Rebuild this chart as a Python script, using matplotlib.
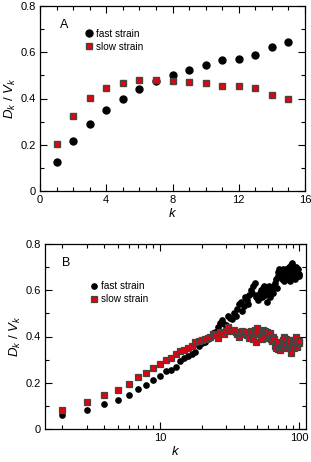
import matplotlib
matplotlib.use("Agg")
import matplotlib.pyplot as plt
from matplotlib.ticker import MultipleLocator, LogLocator, NullFormatter, FixedLocator, FixedFormatter
import numpy as np

plt.rcParams['font.family'] = ['Liberation Sans', 'DejaVu Sans']
plt.rcParams['mathtext.fontset'] = 'custom'
plt.rcParams['mathtext.it'] = 'Liberation Sans:italic'
plt.rcParams['mathtext.rm'] = 'Liberation Sans'

# Panel A data
kA = list(range(1, 16))
fastA = [0.125, 0.215, 0.29, 0.35, 0.40, 0.44, 0.475, 0.50, 0.525, 0.543, 0.565, 0.572, 0.59, 0.622, 0.643]
slowA = [0.205, 0.325, 0.402, 0.445, 0.467, 0.478, 0.478, 0.477, 0.471, 0.466, 0.455, 0.455, 0.445, 0.413, 0.400]

# Panel B data
kB = list(range(2, 101))
fastB = [0.059, 0.083, 0.106, 0.124, 0.148, 0.174, 0.191, 0.211, 0.230, 0.249, 0.256, 0.268, 0.292,
         0.305, 0.315, 0.325, 0.335, 0.36, 0.37,
         0.375, 0.39, 0.40, 0.415, 0.42, 0.44, 0.46, 0.47, 0.455, 0.45,
         0.49, 0.48, 0.475, 0.50, 0.49, 0.52, 0.54, 0.55, 0.51, 0.53,
         0.57, 0.56, 0.54, 0.58, 0.60, 0.59, 0.62, 0.63, 0.57, 0.58,
         0.56, 0.59, 0.60, 0.57, 0.61, 0.62, 0.58, 0.60, 0.55, 0.59,
         0.62, 0.57, 0.61, 0.60, 0.59, 0.62, 0.63, 0.65, 0.61, 0.66,
         0.68, 0.69, 0.67, 0.68, 0.65, 0.69, 0.68, 0.64, 0.66, 0.67,
         0.69, 0.65, 0.68, 0.70, 0.66, 0.64, 0.69, 0.71, 0.72, 0.68,
         0.66, 0.70, 0.69, 0.65, 0.70, 0.68, 0.66, 0.69, 0.67, 0.66]
slowB = [0.081, 0.117, 0.145, 0.170, 0.194, 0.227, 0.242, 0.263, 0.282, 0.299, 0.306, 0.324, 0.338,
         0.34, 0.35, 0.36, 0.378, 0.38, 0.385,
         0.39, 0.395, 0.40, 0.41, 0.405, 0.395, 0.42, 0.415, 0.41, 0.425,
         0.44, 0.43, 0.425, 0.43, 0.42, 0.41, 0.40, 0.415, 0.425, 0.41,
         0.42, 0.405, 0.42, 0.395, 0.425, 0.40, 0.39, 0.43, 0.375, 0.435,
         0.42, 0.41, 0.40, 0.39, 0.43, 0.41, 0.425, 0.40, 0.42, 0.405,
         0.395, 0.415, 0.39, 0.38, 0.40, 0.39, 0.36, 0.35, 0.375, 0.36,
         0.345, 0.35, 0.34, 0.355, 0.37, 0.36, 0.385, 0.40, 0.37, 0.39,
         0.365, 0.35, 0.38, 0.37, 0.36, 0.385, 0.35, 0.33, 0.37, 0.38,
         0.36, 0.35, 0.385, 0.375, 0.40, 0.36, 0.355, 0.38, 0.37, 0.38]

W, H = 311, 462
fig = plt.figure(figsize=(W / 100, H / 100), dpi=100)

axA = fig.add_axes([40 / W, 1 - 191 / H, 265 / W, 185 / H])
axB = fig.add_axes([45 / W, 1 - 429 / H, 261 / W, 185 / H])

red = '#e8000b'
edge = '#444444'
ylabels = ['0', '0.2', '0.4', '0.6', '0.8']

def style(ax):
    ax.tick_params(which='both', direction='in', top=True, right=True, labelsize=8, width=0.8, pad=3)
    ax.tick_params(which='major', length=5)
    ax.tick_params(which='minor', length=3)
    for s in ax.spines.values():
        s.set_linewidth(0.9)
    ax.yaxis.set_major_locator(FixedLocator([0, 0.2, 0.4, 0.6, 0.8]))
    ax.yaxis.set_major_formatter(FixedFormatter(ylabels))
    ax.yaxis.set_minor_locator(MultipleLocator(0.1))
    ax.set_ylabel(r'$D_k\ /\ V_k$', fontsize=9.5, labelpad=2)
    ax.set_xlabel(r'$k$', fontsize=9.5, labelpad=1)

# Panel A
axA.plot(kA, fastA, 'o', color='black', ms=5, mec='black', label='fast strain', zorder=3)
axA.plot(kA, slowA, 's', color=red, ms=5, mec=edge, mew=1.0, label='slow strain', zorder=3)
axA.set_xlim(0, 16)
axA.set_ylim(0, 0.8)
axA.xaxis.set_major_locator(MultipleLocator(4))
axA.xaxis.set_minor_locator(MultipleLocator(1))
style(axA)
axA.text(0.075, 0.9, 'A', transform=axA.transAxes, fontsize=9, va='center')
axA.legend(loc='upper left', bbox_to_anchor=(0.14, 0.91), frameon=False, fontsize=7.2,
           handletextpad=0.1, borderpad=0.1, labelspacing=0.3, handlelength=1.2)

# Panel B
axB.plot(kB, fastB, 'o', color='black', ms=3.8, mec='black', label='fast strain', zorder=3)
axB.plot(kB, slowB, 's', color=red, ms=3.8, mec=edge, mew=0.9, label='slow strain', zorder=3)
axB.set_xscale('log')
axB.set_xlim(1.5, 112)
axB.set_ylim(0, 0.8)
axB.xaxis.set_major_locator(FixedLocator([10, 100]))
axB.xaxis.set_major_formatter(FixedFormatter(['10', '100']))
axB.xaxis.set_minor_locator(LogLocator(base=10, subs=np.arange(2, 10), numticks=10))
axB.xaxis.set_minor_formatter(NullFormatter())
style(axB)
axB.text(0.065, 0.9, 'B', transform=axB.transAxes, fontsize=9, va='center')
axB.legend(loc='upper left', bbox_to_anchor=(0.14, 0.83), frameon=False, fontsize=7.2,
           handletextpad=0.1, borderpad=0.1, labelspacing=0.3, handlelength=1.2)

fig.savefig('out.png', dpi=100)
